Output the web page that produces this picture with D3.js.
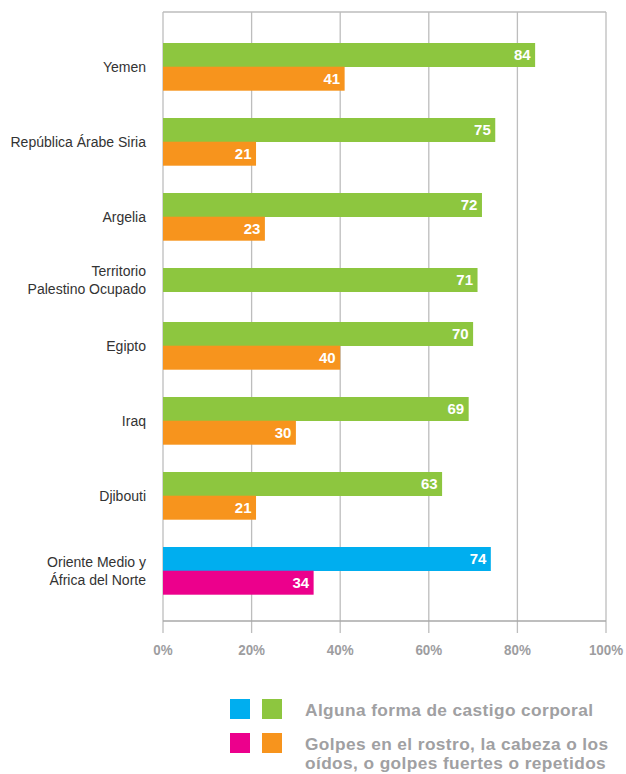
<!DOCTYPE html>
<html><head><meta charset="utf-8">
<script src="https://cdn.jsdelivr.net/npm/d3@7/dist/d3.min.js"></script>
<style>
html,body{margin:0;padding:0;background:#fff;}
svg{display:block;}
</style></head>
<body>
<svg id="chart" width="626" height="774"></svg>
<script>
// ---- data ----
const categories = [
  "Yemen",
  "República Árabe Siria",
  "Argelia",
  "Territorio|Palestino Ocupado",
  "Egipto",
  "Iraq",
  "Djibouti",
  "Oriente Medio y|África del Norte"
];
const anyPunishment = [84, 75, 72, 71, 70, 69, 63, 74];
const severePunishment = [41, 21, 23, null, 40, 30, 21, 34];
const isRegion = [false, false, false, false, false, false, false, true];
const tickValues = [0, 20, 40, 60, 80, 100];
const legendLabels = [
  "Alguna forma de castigo corporal",
  "Golpes en el rostro, la cabeza o los|oídos, o golpes fuertes o repetidos"
];
const countryColors = ["#8dc63f", "#f7941d"];
const regionColors = ["#00aeef", "#ec008c"];

// ---- layout ----
const svg = d3.select("#chart");
const plotLeft = 163, plotRight = 606, plotTop = 12, axisY = 621;
const x = d3.scaleLinear().domain([0, 100]).range([plotLeft, plotRight]);
const bh = 23.7;
const firstBar = 43;

// cumulative group positions (2-bar groups take 75px, 1-bar groups 54px)
const nBars = categories.map((c, i) => severePunishment[i] == null ? 1 : 2);
const groupTop = [];
let acc = firstBar;
nBars.forEach((n, i) => { groupTop.push(acc); acc += (n === 2 ? 75 : 54); });

const gridColor = "#bdbdbd";
const font = "'Liberation Sans','Arial',sans-serif";

const g = svg.append("g");

// condensed text helper (horizontal scale)
function ctext(parent, xPos, yPos, sx) {
  return parent.append("text")
    .attr("transform", `translate(${xPos},${yPos}) scale(${sx},1)`)
    .attr("font-family", font);
}

// grid
g.selectAll("line.grid").data(tickValues).enter().append("line")
  .attr("x1", d => x(d)).attr("x2", d => x(d))
  .attr("y1", plotTop).attr("y2", axisY + 12)
  .attr("stroke", gridColor).attr("stroke-width", 1.3);
g.append("line").attr("x1", plotLeft).attr("x2", plotRight).attr("y1", plotTop).attr("y2", plotTop)
  .attr("stroke", gridColor).attr("stroke-width", 1.3);
g.append("line").attr("x1", plotLeft).attr("x2", plotRight).attr("y1", axisY).attr("y2", axisY)
  .attr("stroke", "#a8a8a8").attr("stroke-width", 1.3);

// tick labels
tickValues.forEach(d => {
  ctext(g, x(d), 655, 0.87)
    .attr("text-anchor", "middle").attr("font-weight", "bold")
    .attr("font-size", 15.4).attr("fill", "#9d9d9f")
    .text(d + "%");
});

// bars
const bars = [];
categories.forEach((c, i) => {
  const cols = isRegion[i] ? regionColors : countryColors;
  bars.push({ v: anyPunishment[i], y: groupTop[i], color: cols[0] });
  if (severePunishment[i] != null)
    bars.push({ v: severePunishment[i], y: groupTop[i] + bh, color: cols[1] });
});
g.selectAll("rect.bar").data(bars).enter().append("rect")
  .attr("x", x(0)).attr("y", d => d.y)
  .attr("width", d => x(d.v) - x(0)).attr("height", bh + 0.3)
  .attr("fill", d => d.color);
g.selectAll("text.val").data(bars).enter().append("text")
  .attr("x", d => x(d.v) - 4.5).attr("y", d => d.y + bh / 2 + 5.4)
  .attr("text-anchor", "end")
  .attr("font-family", font).attr("font-weight", "bold")
  .attr("font-size", 15).attr("fill", "#fff")
  .text(d => d.v);

// category labels
categories.forEach((c, i) => {
  const lines = c.split("|");
  const center = groupTop[i] + nBars[i] * bh / 2;
  const lh = 18;
  const t = ctext(g, 146, center + 5.5, 0.905)
    .attr("text-anchor", "end")
    .attr("font-size", 15.5).attr("fill", "#333");
  lines.forEach((ln, k) => {
    t.append("tspan").attr("x", 0)
      .attr("y", (k - (lines.length - 1) / 2) * lh)
      .text(ln);
  });
});

// legend
const legY = [699, 733];
legendLabels.forEach((lab, i) => {
  g.append("rect").attr("x", 230).attr("y", legY[i]).attr("width", 20).attr("height", 20)
    .attr("fill", regionColors[i]);
  g.append("rect").attr("x", 262).attr("y", legY[i]).attr("width", 20).attr("height", 20)
    .attr("fill", countryColors[i]);
  const t = g.append("text")
    .attr("font-family", font).attr("font-weight", "bold")
    .attr("font-size", 17.3).attr("letter-spacing", 0.4).attr("fill", "#a0a0a2");
  lab.split("|").forEach((ln, k) => {
    t.append("tspan").attr("x", 305).attr("y", legY[i] + 16.5 + k * 19.3).text(ln);
  });
});
</script>
</body></html>
